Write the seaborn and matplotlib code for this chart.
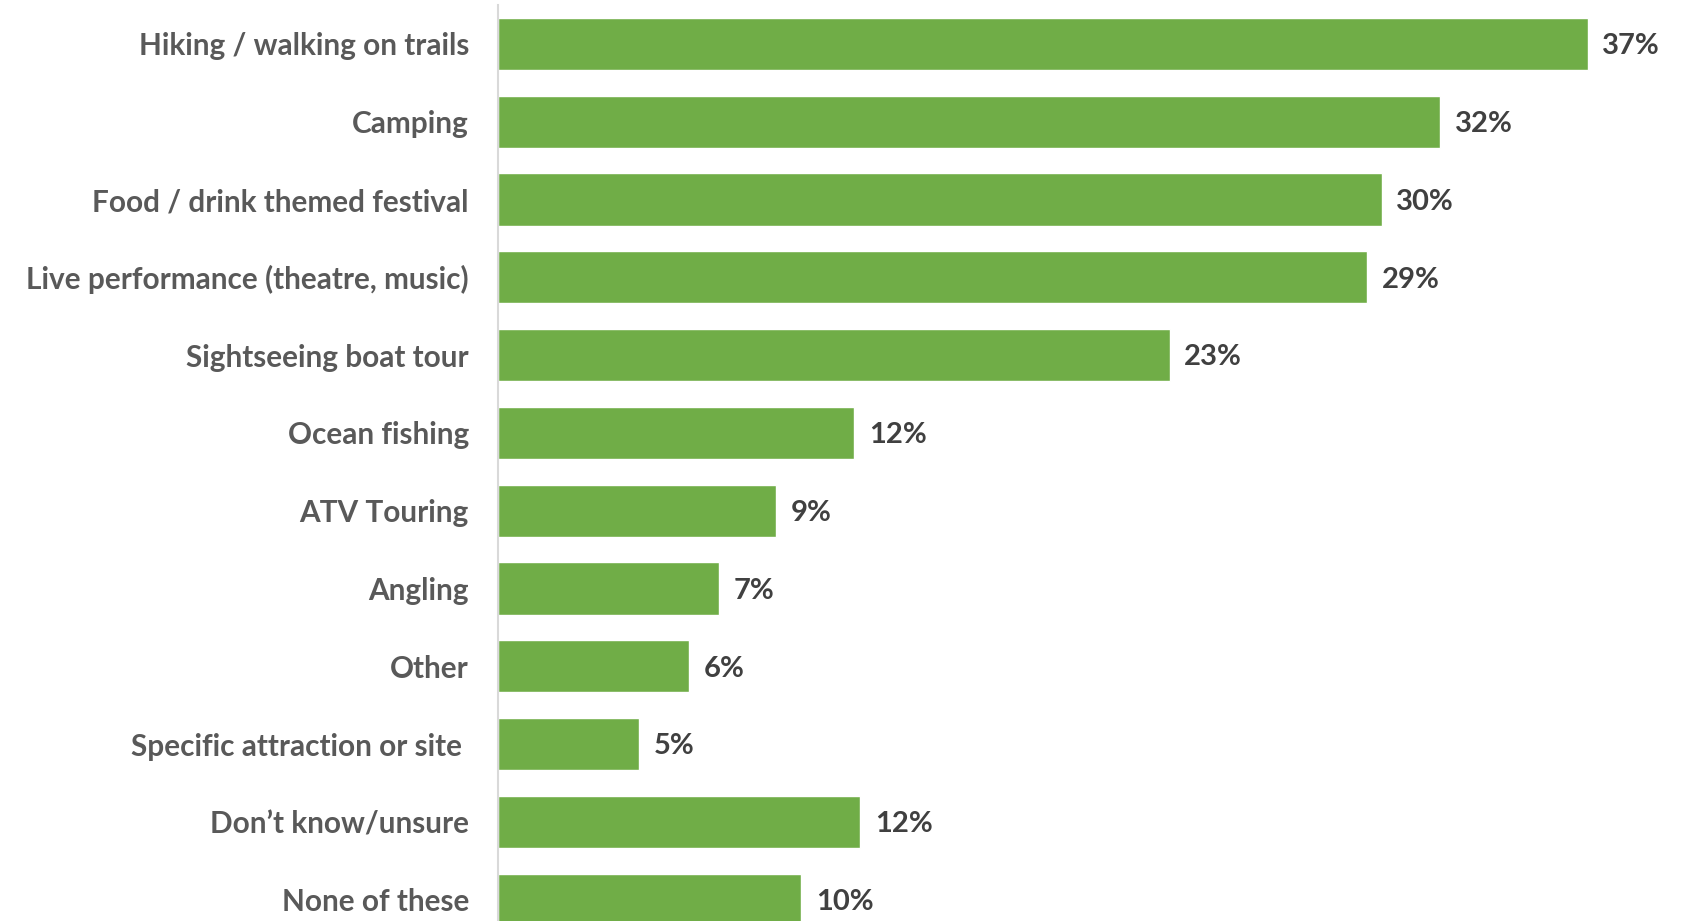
import numpy as np
import pandas as pd
import matplotlib
matplotlib.use("Agg")
import matplotlib.pyplot as plt
import seaborn as sns

# ---------- data ----------
activities = [
    "Hiking / walking on trails",
    "Camping",
    "Food / drink themed festival",
    "Live performance (theatre, music)",
    "Sightseeing boat tour",
    "Ocean fishing",
    "ATV Touring",
    "Angling",
    "Other",
    "Specific attraction or site ",
    "Don\u2019t know/unsure",
    "None of these",
]
shares = [37.0, 32.0, 30.0, 29.5, 22.8, 12.1, 9.45, 7.5, 6.5, 4.8, 12.3, 10.3]
share_labels = ["37%", "32%", "30%", "29%", "23%", "12%", "9%", "7%", "6%", "5%", "12%", "10%"]

df = pd.DataFrame({"activity": activities, "share": shares})

# ---------- plot ----------
sns.set_style("white")
plt.rcParams["font.family"] = ["Lato", "DejaVu Sans"]

fig = plt.figure(figsize=(16.86, 9.21), dpi=100)
ax = fig.add_axes([0.2954, -0.019, 0.6987, 1.0135])

sns.barplot(data=df, x="share", y="activity", color="#70ad47", saturation=1,
            width=0.67, orient="h", ax=ax)

for i, (v, lab) in enumerate(zip(shares, share_labels)):
    ax.text(v + 0.5, i + 0.03, lab, va="center", ha="left", fontsize=21,
            fontweight="bold", color="#404040")

ax.set_xlim(0, 40)
ax.set_ylim(11.5, -0.5)
ax.set_xlabel("")
ax.set_ylabel("")
ax.set_xticks([])
ax.tick_params(axis="y", length=0, pad=21)
for t in ax.get_yticklabels():
    t.set_fontsize(21.4)
    t.set_fontweight("bold")
    t.set_color("#595959")

for s in ["top", "right", "bottom"]:
    ax.spines[s].set_visible(False)
ax.spines["left"].set_color("#d9d9d9")
ax.spines["left"].set_linewidth(1.5)

fig.savefig("out.png", dpi=100)
